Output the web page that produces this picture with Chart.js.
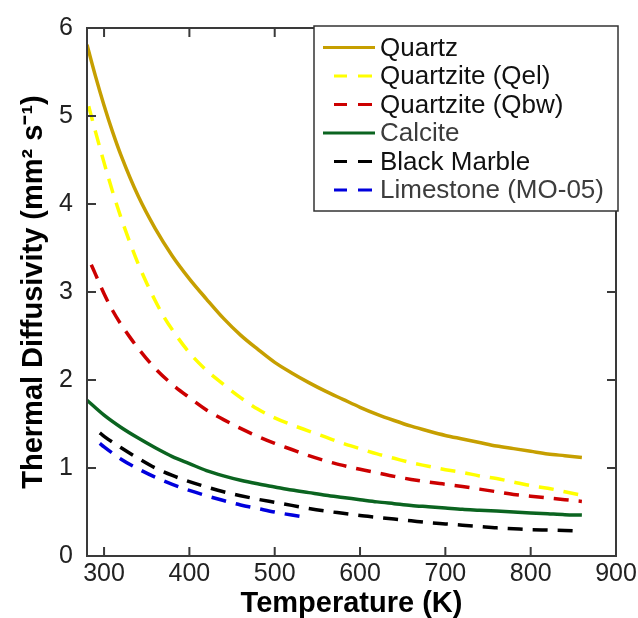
<!DOCTYPE html>
<html><head><meta charset="utf-8">
<script src="https://cdn.jsdelivr.net/npm/chart.js@4"></script>
<style>html,body{margin:0;padding:0;background:#fff}#wrap{width:638px;height:618px;position:relative}</style>
</head><body><div id="wrap"><canvas id="c"></canvas></div>
<script>
const xTickValues = [300, 400, 500, 600, 700, 800, 900];
const yTickValues = [0, 1, 2, 3, 4, 5, 6];
const seriesNames = ['Quartz', 'Quartzite (Qel)', 'Quartzite (Qbw)', 'Calcite', 'Black Marble', 'Limestone (MO-05)'];
const xTitle = 'Temperature (K)';
const yTitle = 'Thermal Diffusivity (mm\u00B2 s\u207B\u00B9)';

const quartzT = [280,290,300,310,320,340,360,380,400,420,440,460,480,500,520,540,560,580,600,620,640,660,680,700,720,740,760,780,800,820,840,860];
const quartzD = [5.81,5.45,5.12,4.82,4.55,4.09,3.72,3.41,3.15,2.92,2.70,2.51,2.35,2.20,2.08,1.97,1.87,1.78,1.69,1.61,1.54,1.475,1.42,1.37,1.33,1.29,1.25,1.22,1.19,1.16,1.14,1.12];

const qelT = [282,290,300,310,320,330,340,350,360,370,380,400,420,440,460,480,500,520,540,560,580,600,620,640,660,680,700,720,740,760,780,800,820,840,860];
const qelD = [5.11,4.82,4.47,4.14,3.84,3.57,3.32,3.10,2.90,2.72,2.57,2.31,2.11,1.95,1.80,1.67,1.57,1.49,1.42,1.35,1.28,1.22,1.16,1.11,1.06,1.02,0.98,0.95,0.91,0.88,0.84,0.80,0.77,0.73,0.69];

const qbwT = [285,290,300,310,320,330,340,360,380,400,420,440,460,480,500,520,540,560,580,600,620,640,660,680,700,720,740,760,780,800,820,840,860];
const qbwD = [3.31,3.20,2.98,2.79,2.63,2.49,2.36,2.13,1.95,1.80,1.66,1.55,1.45,1.36,1.28,1.21,1.14,1.08,1.03,0.985,0.945,0.905,0.87,0.84,0.815,0.79,0.76,0.73,0.70,0.68,0.66,0.64,0.62];

const calciteT = [280,300,320,340,360,380,400,420,440,460,480,500,520,540,560,580,600,620,640,660,680,700,720,740,760,780,800,820,840,860];
const calciteD = [1.77,1.60,1.46,1.34,1.23,1.13,1.05,0.97,0.91,0.86,0.82,0.785,0.75,0.72,0.69,0.665,0.64,0.615,0.595,0.575,0.56,0.545,0.53,0.52,0.51,0.50,0.49,0.48,0.47,0.465];

const marbleT = [295,300,320,340,360,380,400,420,440,460,480,500,520,540,560,580,600,620,640,660,680,700,720,740,760,780,800,820,840,860];
const marbleD = [1.40,1.36,1.23,1.11,1.00,0.915,0.845,0.785,0.73,0.685,0.645,0.61,0.575,0.54,0.51,0.485,0.46,0.44,0.42,0.40,0.38,0.365,0.35,0.335,0.32,0.31,0.30,0.295,0.29,0.28];

const limestoneT = [295,300,320,340,360,380,400,420,440,460,480,500,520,540];
const limestoneD = [1.28,1.24,1.10,0.99,0.895,0.815,0.745,0.685,0.63,0.58,0.54,0.50,0.465,0.435];

const colors = ['#C69F00', '#FFFF00', '#CC0000', '#0B6420', '#000000', '#0000DD'];
const dashed = [false, true, true, false, true, true];
const seriesT = [quartzT, qelT, qbwT, calciteT, marbleT, limestoneT];
const seriesD = [quartzD, qelD, qbwD, calciteD, marbleD, limestoneD];

const pts = (t, d) => t.map((v, i) => ({x: v, y: d[i]}));

const datasets = seriesNames.map((name, i) => ({
  label: name,
  data: pts(seriesT[i], seriesD[i]),
  borderColor: colors[i],
  backgroundColor: colors[i],
  borderWidth: 3.5,
  borderDash: dashed[i] ? [15, 10] : [],
  pointRadius: 0,
  fill: false,
  cubicInterpolationMode: 'monotone'
}));

const frameColor = '#3a3a3a';

const framePlugin = {
  id: 'frame',
  afterDraw(chart) {
    const {ctx, chartArea: a, scales: {x, y}} = chart;
    ctx.save();
    ctx.strokeStyle = frameColor;
    ctx.lineWidth = 2;
    ctx.strokeRect(a.left, a.top, a.right - a.left, a.bottom - a.top);
    const tl = 9;
    ctx.beginPath();
    xTickValues.forEach(v => {
      const px = x.getPixelForValue(v);
      if (px <= a.left + 1 || px >= a.right - 1) return;
      ctx.moveTo(px, a.bottom); ctx.lineTo(px, a.bottom - tl);
      ctx.moveTo(px, a.top); ctx.lineTo(px, a.top + tl);
    });
    yTickValues.forEach(v => {
      const py = y.getPixelForValue(v);
      if (py <= a.top + 1 || py >= a.bottom - 1) return;
      ctx.moveTo(a.left, py); ctx.lineTo(a.left + tl, py);
      ctx.moveTo(a.right, py); ctx.lineTo(a.right - tl, py);
    });
    ctx.stroke();

    // legend box
    const bx = 314, by = 26, bw = 304, bh = 185;
    ctx.fillStyle = '#ffffff';
    ctx.fillRect(bx, by, bw, bh);
    ctx.lineWidth = 1.5;
    ctx.strokeStyle = '#333333';
    ctx.strokeRect(bx, by, bw, bh);
    ctx.font = '26px "Liberation Sans", Arial, sans-serif';
    ctx.textBaseline = 'middle';
    ctx.textAlign = 'left';
    chart.data.datasets.forEach((ds, i) => {
      const cy = 47.5 + i * 28.5;
      ctx.strokeStyle = ds.borderColor;
      ctx.lineWidth = 3;
      ctx.beginPath();
      if (ds.borderDash && ds.borderDash.length) {
        ctx.moveTo(334, cy); ctx.lineTo(347, cy);
        ctx.moveTo(358, cy); ctx.lineTo(372, cy);
      } else {
        ctx.moveTo(323, cy); ctx.lineTo(375, cy);
      }
      ctx.stroke();
      ctx.fillStyle = (i === 3 || i === 5) ? '#3c3c3c' : '#111111';
      ctx.fillText(ds.label, 380, cy + 1);
    });
    ctx.restore();
  }
};

new Chart(document.getElementById('c'), {
  type: 'line',
  data: {datasets},
  plugins: [framePlugin],
  options: {
    responsive: true,
    maintainAspectRatio: false,
    animation: false,
    layout: {padding: {top: 28, right: 22, left: 0, bottom: 0}},
    plugins: {legend: {display: false}, tooltip: {enabled: false}},
    scales: {
      x: {
        type: 'linear',
        min: 280, max: 900,
        grid: {display: false, drawTicks: false},
        border: {display: false},
        afterBuildTicks: s => { s.ticks = xTickValues.map(v => ({value: v})); },
        afterFit: s => { s.height = 62; s.paddingLeft = 0; s.paddingRight = 0; },
        ticks: {
          autoSkip: false, maxRotation: 0,
          padding: 3,
          color: '#222',
          font: {family: '"Liberation Sans", Arial, sans-serif', size: 25}
        },
        title: {
          display: true, text: xTitle, color: '#000',
          padding: {top: 0, bottom: 0},
          font: {family: '"Liberation Sans", Arial, sans-serif', size: 29, weight: 'bold', lineHeight: 1}
        }
      },
      y: {
        min: 0, max: 6,
        grid: {display: false, drawTicks: false},
        border: {display: false},
        afterBuildTicks: s => { s.ticks = yTickValues.map(v => ({value: v})); },
        afterFit: s => { s.width = 87; s.paddingTop = 0; s.paddingBottom = 0; },
        ticks: {
          padding: 14,
          color: '#222',
          font: {family: '"Liberation Sans", Arial, sans-serif', size: 25}
        },
        title: {
          display: true, text: yTitle, color: '#000',
          padding: {top: 17, bottom: 0},
          font: {family: '"Liberation Sans", Arial, sans-serif', size: 29, weight: 'bold', lineHeight: 1.2}
        }
      }
    }
  }
});
</script>
</body></html>
